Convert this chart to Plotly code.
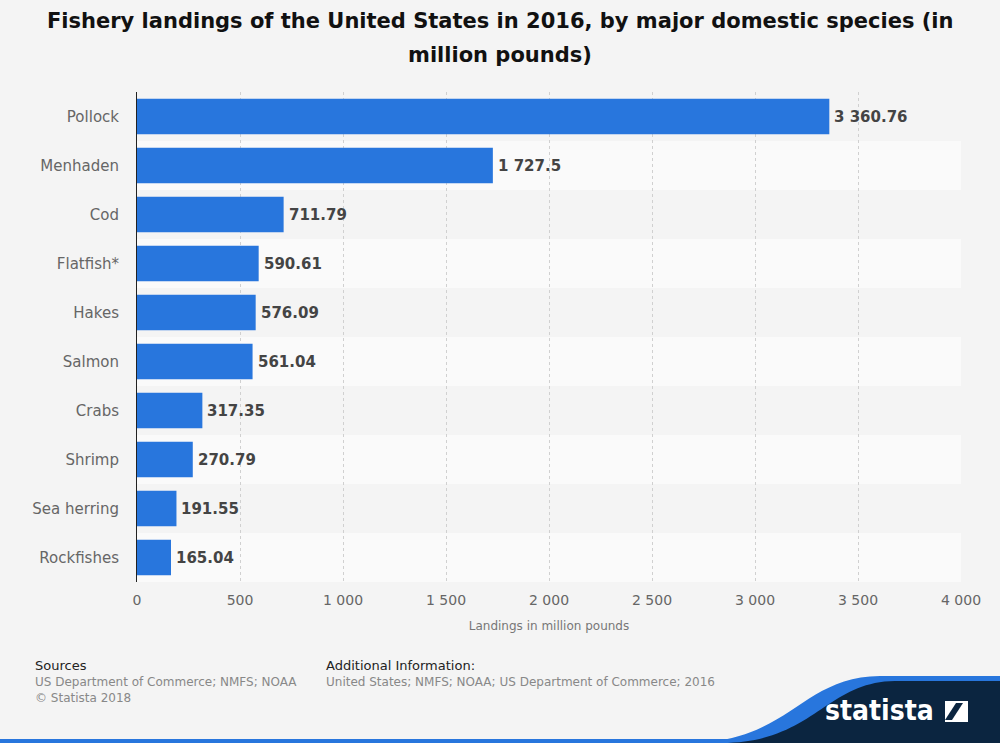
import plotly.graph_objects as go

species = ["Pollock", "Menhaden", "Cod", "Flatfish*", "Hakes", "Salmon", "Crabs",
           "Shrimp", "Sea herring", "Rockfishes"]
landings = [3360.76, 1727.5, 711.79, 590.61, 576.09, 561.04, 317.35, 270.79, 191.55, 165.04]
x_ticks = [0, 500, 1000, 1500, 2000, 2500, 3000, 3500, 4000]

W, H = 1000, 743
L, R, T, B = 137, 961, 92, 582


def px(x):
    return (x - L) / (R - L)


def py(y):
    return (B - y) / (B - T)


fig = go.Figure()
fig.add_trace(go.Bar(
    y=species, x=landings, orientation="h",
    marker=dict(color="#2876dd", line=dict(width=0)),
    width=0.72, hoverinfo="skip",
))

shapes = []
for i, s in enumerate(species):
    if i % 2 == 1:
        shapes.append(dict(type="rect", xref="paper", yref="y", x0=0, x1=1,
                           y0=i - 0.5, y1=i + 0.5, fillcolor="#fafafa",
                           line=dict(width=0), layer="below"))

# footer decoration (Statista logo)
shapes.append(dict(type="rect", xref="paper", yref="paper",
                   x0=px(0), x1=px(1000), y0=py(743), y1=py(739),
                   fillcolor="#2876dd", line=dict(width=0)))
blue = "M {} {} C {} {} {} {} {} {} L {} {} L {} {} Z".format(
    px(690), py(743), px(790), py(742), px(800), py(677), px(880), py(676),
    px(1000), py(676), px(1000), py(743))
shapes.append(dict(type="path", xref="paper", yref="paper", path=blue,
                   fillcolor="#2876dd", line=dict(width=0)))
dark = "M {} {} C {} {} {} {} {} {} L {} {} L {} {} Z".format(
    px(722), py(743), px(815), py(742), px(825), py(682), px(895), py(681),
    px(1000), py(681), px(1000), py(743))
shapes.append(dict(type="path", xref="paper", yref="paper", path=dark,
                   fillcolor="#0b2540", line=dict(width=0)))
shapes.append(dict(type="rect", xref="paper", yref="paper",
                   x0=px(945), x1=px(968), y0=py(722), y1=py(701),
                   fillcolor="white", line=dict(width=0)))
icon = "M {} {} L {} {} L {} {} L {} {} Z".format(
    px(945), py(720), px(956), py(703), px(963), py(703), px(952), py(720))
shapes.append(dict(type="path", xref="paper", yref="paper", path=icon,
                   fillcolor="#0b2540", line=dict(width=0)))

annotations = [
    dict(text="Fishery landings of the United States in 2016, by major domestic species (in",
         x=px(500), y=py(21), xref="paper", yref="paper", xanchor="center", yanchor="middle",
         showarrow=False,
         font=dict(family="DejaVu Sans", size=21, color="#111111", weight="bold")),
    dict(text="million pounds)",
         x=px(500), y=py(55), xref="paper", yref="paper", xanchor="center", yanchor="middle",
         showarrow=False,
         font=dict(family="DejaVu Sans", size=21, color="#111111", weight="bold")),
    dict(text="Sources", x=px(33), y=py(665), xref="paper", yref="paper",
         xanchor="left", yanchor="middle", showarrow=False,
         font=dict(family="DejaVu Sans", size=13, color="#222222")),
    dict(text="US Department of Commerce; NMFS; NOAA<br>© Statista 2018",
         x=px(33), y=py(673), xref="paper", yref="paper", align="left",
         xanchor="left", yanchor="top", showarrow=False,
         font=dict(family="DejaVu Sans", size=12, color="#888888")),
    dict(text="Additional Information:", x=px(324), y=py(665), xref="paper", yref="paper",
         xanchor="left", yanchor="middle", showarrow=False,
         font=dict(family="DejaVu Sans", size=13, color="#222222")),
    dict(text="United States; NMFS; NOAA; US Department of Commerce; 2016",
         x=px(324), y=py(673), xref="paper", yref="paper", align="left",
         xanchor="left", yanchor="top", showarrow=False,
         font=dict(family="DejaVu Sans", size=12, color="#888888")),
    dict(text="statista", x=px(936), y=py(710), xref="paper", yref="paper",
         xanchor="right", yanchor="middle", showarrow=False,
         font=dict(family="DejaVu Sans Condensed, DejaVu Sans", size=28,
                   color="white", weight="bold")),
]

# value labels next to bars
for s, v in zip(species, landings):
    annotations.append(dict(
        x=v, y=s, xref="x", yref="y", text=f"{v:,}".replace(",", " "),
        xanchor="left", yanchor="middle", xshift=3, showarrow=False,
        font=dict(family="DejaVu Sans", size=15, color="#444444", weight="bold")))

fig.update_layout(
    width=W, height=H,
    margin=dict(l=L, r=W - R, t=T, b=H - B, pad=0),
    paper_bgcolor="#f4f4f4", plot_bgcolor="#f4f4f4",
    separators=". ",
    showlegend=False,
    bargap=0.28,
    xaxis=dict(range=[0, 4000], tickvals=x_ticks, tickformat=",",
               showgrid=True, gridcolor="#d0d0d0", griddash="dot", gridwidth=1,
               zeroline=False, showline=False, ticks="",
               ticklabelstandoff=8,
               tickfont=dict(family="DejaVu Sans", size=14, color="#666666"),
               title=dict(text="Landings in million pounds", standoff=14,
                          font=dict(family="DejaVu Sans", size=12, color="#777777"))),
    yaxis=dict(autorange="reversed", showgrid=False, zeroline=False,
               showline=True, linecolor="#222222", linewidth=1, ticks="",
               ticklabelstandoff=14,
               tickfont=dict(family="DejaVu Sans", size=15, color="#666666")),
    shapes=shapes, annotations=annotations,
)

fig.write_html("out.html", config={"displayModeBar": False},
               post_script="document.body.style.margin='0';document.body.style.overflow='hidden';")
